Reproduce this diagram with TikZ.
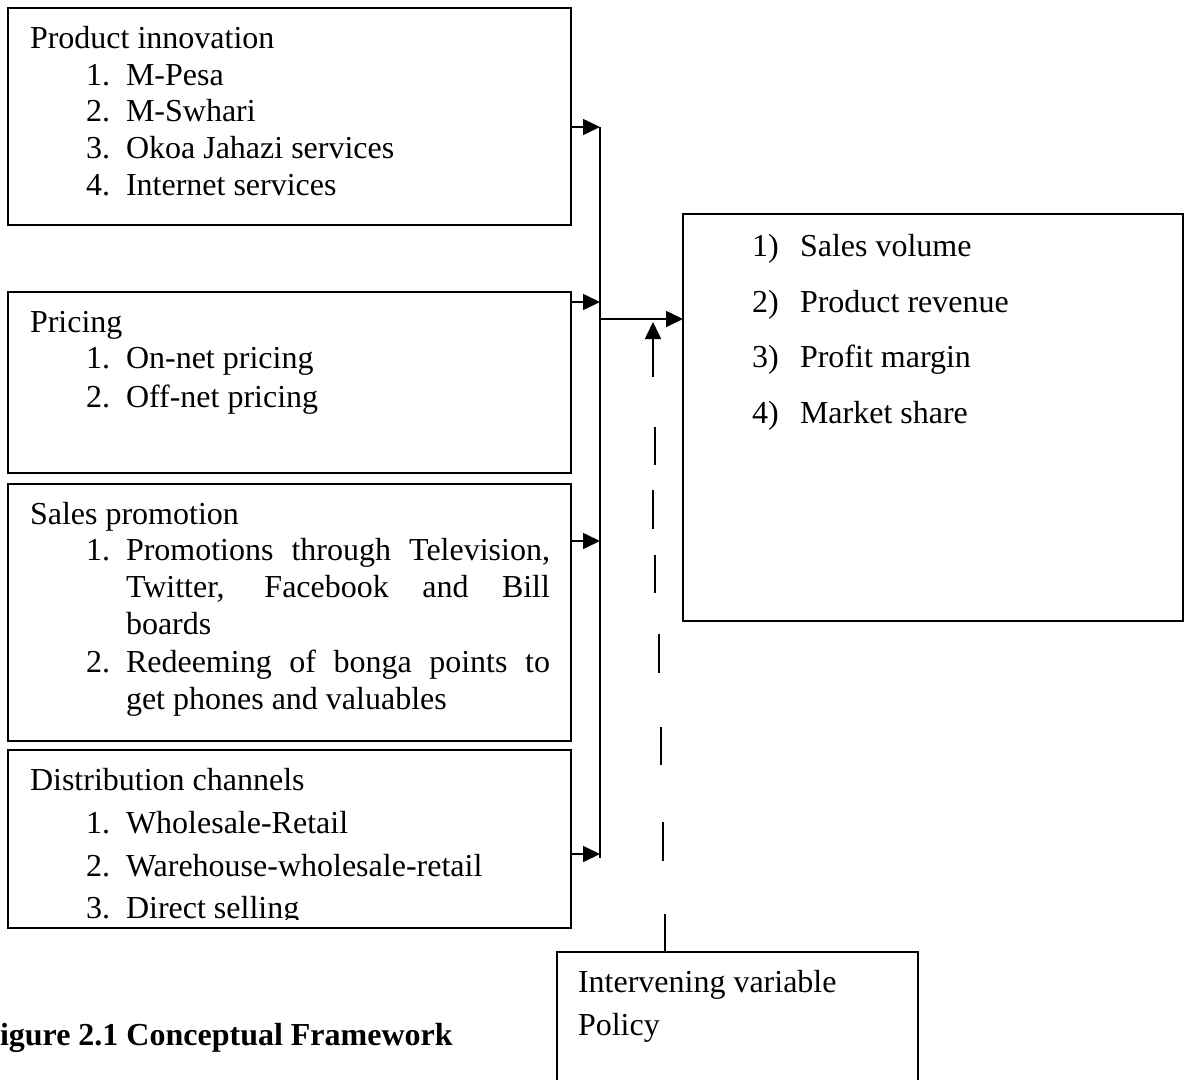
\documentclass[tikz,border=0pt]{standalone}
\usepackage{fontspec}
\setmainfont{Liberation Serif}
\usetikzlibrary{arrows.meta}
\begin{document}
\begin{tikzpicture}[x=1pt,y=-1pt,
  every node/.style={inner sep=0pt, outer sep=0pt},
  box/.style={draw, line width=1.6pt, rectangle, anchor=north west},
  txt/.style={anchor=base west, font=\fontsize{32}{37}\selectfont},
  hd/.style={anchor=base west, font=\fontsize{32}{37}\selectfont\bfseries},
  conn/.style={line width=1.6pt},
  arr/.style={line width=1.6pt, -{Triangle[length=17pt,width=16pt]}},
  dsh/.style={line width=1.6pt}]
\useasboundingbox (0,0) rectangle (1185,1079);
% boxes
\node[box, minimum width=563pt, minimum height=217pt] (b1) at (8,8) {};
\node[box, minimum width=563pt, minimum height=181pt] (b2) at (8,292) {};
\node[box, minimum width=563pt, minimum height=257pt] (b3) at (8,484) {};
\node[box, minimum width=563pt, minimum height=178pt] (b4) at (8,750) {};
\node[box, minimum width=500pt, minimum height=407pt] (out) at (683,214) {};
\node[box, minimum width=361pt, minimum height=160pt] (iv) at (557,952) {};
% box 1 text
\node[txt] (t1) at (30,48) {Product innovation};
\node[txt] (t1a) at (86,85) {1.};   \node[txt] (t1b) at (126,85) {M-Pesa};
\node[txt] (t1c) at (86,121) {2.};  \node[txt] (t1d) at (126,121) {M-Swhari};
\node[txt] (t1e) at (86,158) {3.};  \node[txt] (t1f) at (126,158) {Okoa Jahazi services};
\node[txt] (t1g) at (86,195) {4.};  \node[txt] (t1h) at (126,195) {Internet services};
% box 2 text
\node[txt] (t2) at (30,332) {Pricing};
\node[txt] (t2a) at (86,368) {1.};  \node[txt] (t2b) at (126,368) {On-net pricing};
\node[txt] (t2c) at (86,407) {2.};  \node[txt] (t2d) at (126,407) {Off-net pricing};
% box 3 text
\node[txt] (t3) at (30,524) {Sales promotion};
\node[txt] (t3a) at (86,560) {1.};
\node[txt] (t3b) at (126,560) {\makebox[424pt][s]{Promotions through Television,}};
\node[txt] (t3c) at (126,597) {\makebox[424pt][s]{Twitter, Facebook and Bill}};
\node[txt] (t3d) at (126,634) {boards};
\node[txt] (t3e) at (86,672) {2.};
\node[txt] (t3f) at (126,672) {\makebox[424pt][s]{Redeeming of bonga points to}};
\node[txt] (t3g) at (126,709) {get phones and valuables};
% box 4 text
\node[txt] (t4) at (30,790) {Distribution channels};
\node[txt] (t4a) at (86,833) {1.};  \node[txt] (t4b) at (126,833) {Wholesale-Retail};
\node[txt] (t4c) at (86,876) {2.};  \node[txt] (t4d) at (126,876) {Warehouse-wholesale-retail};
\begin{scope}
\clip (8,750) rectangle (571,919);
\node[txt] (t4e) at (86,918) {3.};  \node[txt] (t4f) at (126,918) {Direct selling};
\end{scope}
% outcome text
\node[txt] (o1) at (752,256) {1)}; \node[txt] (o1b) at (800,256) {Sales volume};
\node[txt] (o2) at (752,312) {2)}; \node[txt] (o2b) at (800,312) {Product revenue};
\node[txt] (o3) at (752,367) {3)}; \node[txt] (o3b) at (800,367) {Profit margin};
\node[txt] (o4) at (752,423) {4)}; \node[txt] (o4b) at (800,423) {Market share};
% intervening text
\node[txt] (i1) at (578,992) {Intervening variable};
\node[txt] (i2) at (578,1035) {Policy};
% caption
\node[hd] (cap) at (0,1045) {igure 2.1 Conceptual Framework};
% connectors
\coordinate (j1) at (600,127);
\coordinate (j2) at (600,302);
\coordinate (j3) at (600,541);
\coordinate (j4) at (600,854);
\coordinate (jb) at (600,858);
\coordinate (jo) at (600,319);
\draw[arr] (b1.east |- j1) -- (j1);
\draw[arr] (b2.east |- j2) -- (j2);
\draw[arr] (b3.east |- j3) -- (j3);
\draw[arr] (b4.east |- j4) -- (j4);
\draw[conn] (j1) -- (jb);
\draw[arr] (jo) -- (out.west |- jo);
% intervening dashed connector
\coordinate (tip) at (653,322);
\draw[arr, -{Triangle[length=17pt,width=16pt]}] (653,377) -- (tip);
\draw[dsh] (655,427) -- (655,465);
\draw[dsh] (653,490) -- (653,529);
\draw[dsh] (655,555) -- (655,593);
\draw[dsh] (659,634) -- (659,673);
\draw[dsh] (661,727) -- (661,765);
\draw[dsh] (663,822) -- (663,861);
\draw[conn] (iv.north west) ++(108,0) -- ++(0,-38);
\end{tikzpicture}
\end{document}
